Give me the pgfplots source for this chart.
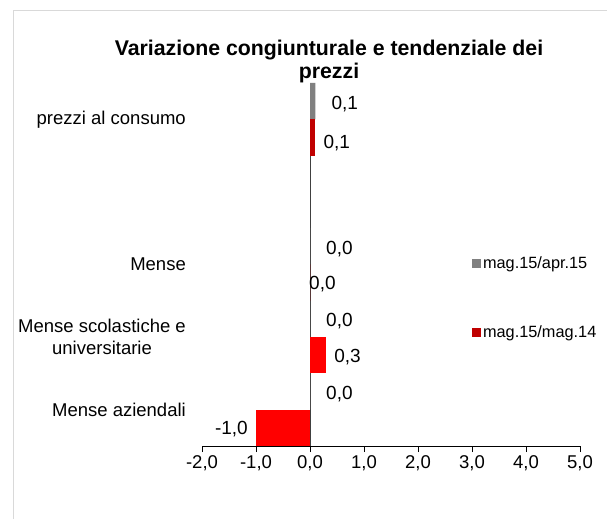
\documentclass[border=0pt]{standalone}
\usepackage{fontspec}
\setmainfont{Liberation Sans}
\usepackage{pgfplots}
\pgfplotsset{compat=1.18}
\definecolor{cgray}{RGB}{128,128,128}
\definecolor{cdred}{RGB}{192,0,0}
\definecolor{cred}{RGB}{255,0,0}
\definecolor{cborder}{RGB}{217,217,217}
\pgfplotsset{sqlegend/.style={legend image code/.code={\fill (0pt,-4.5pt) rectangle (9pt,4.5pt);}}}
\begin{document}
\begin{tikzpicture}[x=1pt,y=1pt]
\useasboundingbox (0,0) rectangle (607,519);
\fill[white] (0,0) rectangle (607,519);
\draw[cborder, line width=1pt] (13,0) -- (13,508) -- (607,508);
\node[font=\fontsize{21.3}{23.5}\selectfont\bfseries, align=center, anchor=north, inner sep=0pt] at (329,479.5) {Variazione congiunturale e tendenziale dei\\prezzi};
\begin{axis}[
  at={(202pt,73pt)}, anchor=south west,
  scale only axis, width=378pt, height=363pt,
  xmin=-2, xmax=5, ymin=0.5, ymax=5.5,
  axis x line*=bottom, axis y line*=left,
  y axis line style={draw=none},
  x axis line style={black, line width=0.8pt},
  xtick={-2,-1,0,1,2,3,4,5},
  xticklabels={{-2,0},{-1,0},{0,0},{1,0},{2,0},{3,0},{4,0},{5,0}},
  ytick={1,2,3,5},
  yticklabels={Mense aziendali,{Mense scolastiche e\\universitarie},Mense,prezzi al consumo},
  tick align=outside, major tick length=6pt,
  x tick style={black, line width=0.8pt},
  y tick style={draw=none},
  ticklabel style={font=\fontsize{18.5}{22}\selectfont},
  yticklabel style={align=center, anchor=east, inner sep=0pt, xshift=-10pt},
  xticklabel style={inner sep=0pt, anchor=north, yshift=-3pt},
  point meta=explicit symbolic,
  nodes near coords style={font=\fontsize{19}{21}\selectfont, text=black, inner sep=0pt},
  legend style={at={(0.714,0.523)}, anchor=north west, draw=none, fill=none,
    font=\fontsize{16.3}{18}\selectfont, inner sep=0pt, row sep=56pt, column sep=2pt,
    nodes={inner sep=0pt}},
  legend cell align=left,
  clip=false,
]
\draw[black!75, line width=1pt] (axis cs:0,0.5) -- (axis cs:0,5.5);
\addplot[xbar, sqlegend, bar width=0.5, bar shift=0pt, fill=cgray, draw=none,
  nodes near coords, nodes near coords style={anchor=west, xshift=16pt, yshift=-2.5pt}]
  coordinates {(0.1,5.25) [0,1] (0,3.25) [0,0] (0,2.25) [0,0] (0,1.25) [0,0]};
\addlegendentry{mag.15/apr.15}
\addplot[xbar, sqlegend, bar width=0.5, bar shift=0pt, fill=cdred, draw=none,
  nodes near coords, nodes near coords style={anchor=west, xshift=8pt, yshift=-6pt}]
  coordinates {(0.1,4.75) [0,1]};
\addlegendentry{mag.15/mag.14}
\addplot[xbar, forget plot, bar width=0.5, bar shift=0pt, fill=cred, draw=none,
  nodes near coords, nodes near coords style={anchor=west, xshift=8pt, yshift=-2pt}]
  coordinates {(0.3,1.75) [0,3]};
\addplot[xbar, forget plot, bar width=0.5, bar shift=0pt, fill=cred, draw=none,
  nodes near coords, nodes near coords style={anchor=west, xshift=-1pt, yshift=-1pt}]
  coordinates {(0,2.75) [0,0]};
\addplot[xbar, forget plot, bar width=0.5, bar shift=0pt, fill=cred, draw=none,
  nodes near coords, nodes near coords style={anchor=east, xshift=-8pt, yshift=-1pt}]
  coordinates {(-1,0.75) [-1,0]};
\end{axis}
\end{tikzpicture}
\end{document}
